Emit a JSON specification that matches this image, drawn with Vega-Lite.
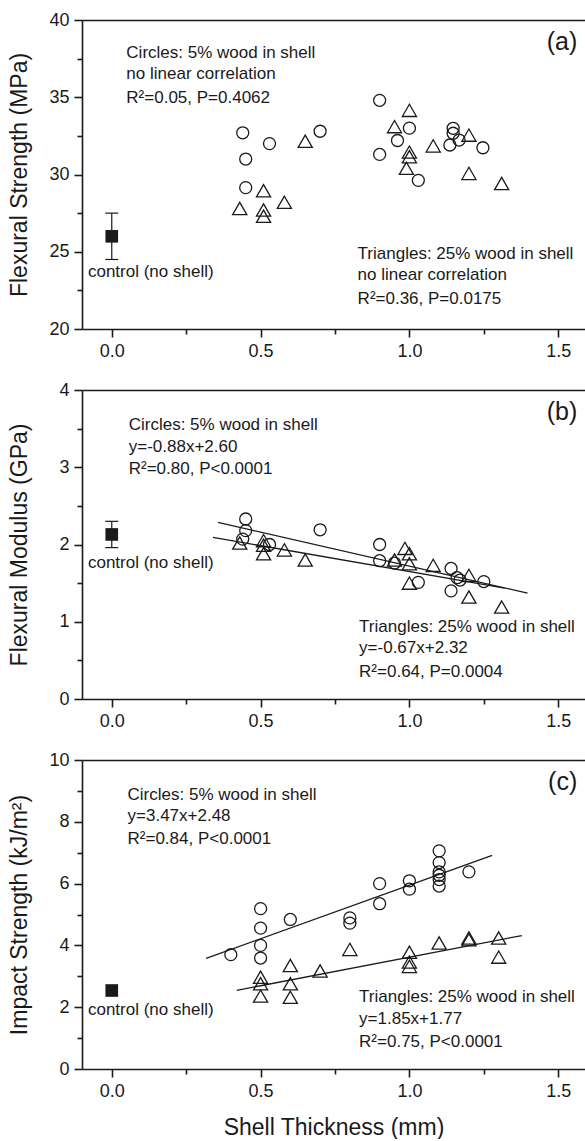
{
  "$schema": "https://vega.github.io/schema/vega-lite/v6.json",
  "padding": {"left": 8, "top": 11, "right": 0, "bottom": 0},
  "bounds": "flush",
  "spacing": 61,
  "datasets": {
    "a_c": [
      {"thickness": 0.44, "value": 32.7}, {"thickness": 0.45, "value": 31.0}, {"thickness": 0.45, "value": 29.15},
      {"thickness": 0.53, "value": 32.0}, {"thickness": 0.70, "value": 32.8}, {"thickness": 0.90, "value": 34.8},
      {"thickness": 0.90, "value": 31.3}, {"thickness": 0.96, "value": 32.2}, {"thickness": 1.00, "value": 33.0},
      {"thickness": 1.03, "value": 29.62}, {"thickness": 1.147, "value": 32.99}, {"thickness": 1.147, "value": 32.67},
      {"thickness": 1.136, "value": 31.91}, {"thickness": 1.167, "value": 32.23}, {"thickness": 1.247, "value": 31.73}
    ],
    "a_t": [
      {"thickness": 0.43, "value": 27.8}, {"thickness": 0.51, "value": 28.95}, {"thickness": 0.51, "value": 27.7},
      {"thickness": 0.51, "value": 27.3}, {"thickness": 0.58, "value": 28.2}, {"thickness": 0.65, "value": 32.15},
      {"thickness": 0.95, "value": 33.1}, {"thickness": 1.00, "value": 34.15}, {"thickness": 1.00, "value": 31.45},
      {"thickness": 1.00, "value": 31.15}, {"thickness": 0.99, "value": 30.4}, {"thickness": 1.08, "value": 31.85},
      {"thickness": 1.20, "value": 32.55}, {"thickness": 1.20, "value": 30.07}, {"thickness": 1.31, "value": 29.42}
    ],
    "a_ctrl": [{"thickness": 0, "value": 26.0, "lo": 24.5, "hi": 27.5}],
    "a_txt": [
      {"x": 0.049, "y": 37.84, "text": "Circles: 5% wood in shell"},
      {"x": 0.049, "y": 36.49, "text": "no linear correlation"},
      {"x": 0.049, "y": 34.93, "text": "R²=0.05, P=0.4062"},
      {"x": 0.826, "y": 24.83, "text": "Triangles: 25% wood in shell"},
      {"x": 0.826, "y": 23.5, "text": "no linear correlation"},
      {"x": 0.826, "y": 21.94, "text": "R²=0.36, P=0.0175"},
      {"x": -0.08, "y": 23.69, "text": "control (no shell)"}
    ],
    "a_lab": [{"x": 1.564, "y": 38.58, "text": "(a)"}],
    "b_c": [
      {"thickness": 0.45, "value": 2.33}, {"thickness": 0.45, "value": 2.18}, {"thickness": 0.44, "value": 2.07},
      {"thickness": 0.53, "value": 2.0}, {"thickness": 0.70, "value": 2.19}, {"thickness": 0.90, "value": 2.0},
      {"thickness": 0.90, "value": 1.79}, {"thickness": 0.95, "value": 1.76}, {"thickness": 1.03, "value": 1.51},
      {"thickness": 1.14, "value": 1.69}, {"thickness": 1.16, "value": 1.57}, {"thickness": 1.17, "value": 1.54},
      {"thickness": 1.14, "value": 1.4}, {"thickness": 1.25, "value": 1.52}
    ],
    "b_t": [
      {"thickness": 0.43, "value": 2.02}, {"thickness": 0.51, "value": 2.05}, {"thickness": 0.51, "value": 1.99},
      {"thickness": 0.51, "value": 1.88}, {"thickness": 0.58, "value": 1.93}, {"thickness": 0.65, "value": 1.8},
      {"thickness": 0.95, "value": 1.8}, {"thickness": 0.985, "value": 1.95}, {"thickness": 1.0, "value": 1.88},
      {"thickness": 1.0, "value": 1.75}, {"thickness": 1.0, "value": 1.5}, {"thickness": 1.08, "value": 1.73},
      {"thickness": 1.2, "value": 1.6}, {"thickness": 1.2, "value": 1.32}, {"thickness": 1.31, "value": 1.19}
    ],
    "b_fit": [
      {"group": "5%", "x": 0.357, "y": 2.286}, {"group": "5%", "x": 1.397, "y": 1.371},
      {"group": "25%", "x": 0.34, "y": 2.092}, {"group": "25%", "x": 1.32, "y": 1.436}
    ],
    "b_ctrl": [{"thickness": 0, "value": 2.13, "lo": 1.96, "hi": 2.3}],
    "b_txt": [
      {"x": 0.057, "y": 3.546, "text": "Circles: 5% wood in shell"},
      {"x": 0.057, "y": 3.265, "text": "y=-0.88x+2.60"},
      {"x": 0.057, "y": 2.975, "text": "R²=0.80, P<0.0001"},
      {"x": 0.831, "y": 0.93, "text": "Triangles: 25% wood in shell"},
      {"x": 0.831, "y": 0.658, "text": "y=-0.67x+2.32"},
      {"x": 0.831, "y": 0.346, "text": "R²=0.64, P=0.0004"},
      {"x": -0.08, "y": 1.765, "text": "control (no shell)"}
    ],
    "b_lab": [{"x": 1.564, "y": 3.71, "text": "(b)"}],
    "c_c": [
      {"thickness": 0.40, "value": 3.7}, {"thickness": 0.50, "value": 5.19}, {"thickness": 0.50, "value": 4.56},
      {"thickness": 0.50, "value": 4.0}, {"thickness": 0.50, "value": 3.59}, {"thickness": 0.60, "value": 4.84},
      {"thickness": 0.80, "value": 4.89}, {"thickness": 0.80, "value": 4.72}, {"thickness": 0.90, "value": 6.0},
      {"thickness": 0.90, "value": 5.35}, {"thickness": 1.0, "value": 6.09}, {"thickness": 1.0, "value": 5.82},
      {"thickness": 1.1, "value": 7.06}, {"thickness": 1.1, "value": 6.68}, {"thickness": 1.1, "value": 6.38},
      {"thickness": 1.1, "value": 6.27}, {"thickness": 1.1, "value": 6.13}, {"thickness": 1.1, "value": 5.92},
      {"thickness": 1.2, "value": 6.38}
    ],
    "c_t": [
      {"thickness": 0.5, "value": 2.97}, {"thickness": 0.5, "value": 2.76}, {"thickness": 0.5, "value": 2.36},
      {"thickness": 0.6, "value": 3.35}, {"thickness": 0.6, "value": 2.76}, {"thickness": 0.6, "value": 2.32},
      {"thickness": 0.7, "value": 3.17}, {"thickness": 0.8, "value": 3.87}, {"thickness": 1.0, "value": 3.78},
      {"thickness": 1.0, "value": 3.46}, {"thickness": 1.0, "value": 3.32}, {"thickness": 1.1, "value": 4.08},
      {"thickness": 1.2, "value": 4.24}, {"thickness": 1.2, "value": 4.18}, {"thickness": 1.3, "value": 4.24},
      {"thickness": 1.3, "value": 3.62}
    ],
    "c_fit": [
      {"group": "5%", "x": 0.317, "y": 3.58}, {"group": "5%", "x": 1.278, "y": 6.915},
      {"group": "25%", "x": 0.42, "y": 2.547}, {"group": "25%", "x": 1.378, "y": 4.319}
    ],
    "c_ctrl": [{"thickness": 0, "value": 2.54}],
    "c_txt": [
      {"x": 0.053, "y": 8.865, "text": "Circles: 5% wood in shell"},
      {"x": 0.053, "y": 8.18, "text": "y=3.47x+2.48"},
      {"x": 0.053, "y": 7.44, "text": "R²=0.84, P<0.0001"},
      {"x": 0.831, "y": 2.33, "text": "Triangles: 25% wood in shell"},
      {"x": 0.831, "y": 1.63, "text": "y=1.85x+1.77"},
      {"x": 0.831, "y": 0.87, "text": "R²=0.75, P<0.0001"},
      {"x": -0.08, "y": 1.92, "text": "control (no shell)"}
    ],
    "c_lab": [{"x": 1.564, "y": 9.28, "text": "(c)"}]
  },
  "vconcat": [
    {
      "width": 503, "height": 309,
      "resolve": {"axis": {"x": "independent", "y": "independent"}},
      "layer": [
        {
          "data": {"name": "a_c"},
          "mark": {"type": "point", "shape": "circle", "size": 144, "filled": false, "stroke": "#1a1a1a", "strokeWidth": 1.3, "opacity": 1},
          "encoding": {
            "x": {"field": "thickness", "type": "quantitative", "scale": {"domain": [-0.1, 1.59], "nice": false, "zero": false},
              "axis": {"orient": "bottom", "values": [0, 0.25, 0.5, 0.75, 1, 1.25, 1.5], "labelExpr": "datum.value % 0.5 === 0 ? format(datum.value, '.1f') : ''", "tickSize": {"condition": {"test": "datum.value % 0.5 === 0", "value": 8}, "value": 5}, "labelPadding": 5, "labelFlush": false, "labelOverlap": false, "title": null}},
            "y": {"field": "value", "type": "quantitative", "scale": {"domain": [20, 40], "nice": false, "zero": false},
              "axis": {"orient": "left", "values": [20, 22.5, 25, 27.5, 30, 32.5, 35, 37.5, 40], "labelExpr": "datum.value % 5 === 0 ? format(datum.value, 'd') : ''", "tickSize": {"condition": {"test": "datum.value % 5 === 0", "value": 8}, "value": 5}, "labelPadding": 5, "labelFlush": false, "labelOverlap": false, "title": "Flexural Strength (MPa)", "titleX": -50.5}}
          }
        },
        {
          "data": {"name": "a_t"},
          "mark": {"type": "point", "shape": "triangle-up", "size": 200, "filled": false, "stroke": "#1a1a1a", "strokeWidth": 1.3, "opacity": 1},
          "encoding": {
            "x": {"field": "thickness", "type": "quantitative", "axis": null},
            "y": {"field": "value", "type": "quantitative", "axis": null}
          }
        },
        {
          "data": {"name": "a_ctrl"},
          "mark": {"type": "rule", "stroke": "#1a1a1a", "strokeWidth": 1.2},
          "encoding": {
            "x": {"field": "thickness", "type": "quantitative", "axis": null},
            "y": {"field": "lo", "type": "quantitative", "axis": null},
            "y2": {"field": "hi"}
          }
        },
        {
          "data": {"name": "a_ctrl"},
          "mark": {"type": "tick", "orient": "horizontal", "size": 13, "thickness": 1.2, "color": "#1a1a1a", "opacity": 1},
          "encoding": {
            "x": {"field": "thickness", "type": "quantitative", "axis": null},
            "y": {"field": "lo", "type": "quantitative", "axis": null}
          }
        },
        {
          "data": {"name": "a_ctrl"},
          "mark": {"type": "tick", "orient": "horizontal", "size": 13, "thickness": 1.2, "color": "#1a1a1a", "opacity": 1},
          "encoding": {
            "x": {"field": "thickness", "type": "quantitative", "axis": null},
            "y": {"field": "hi", "type": "quantitative", "axis": null}
          }
        },
        {
          "data": {"name": "a_ctrl"},
          "mark": {"type": "point", "shape": "square", "size": 160, "filled": true, "color": "#1a1a1a", "opacity": 1},
          "encoding": {
            "x": {"field": "thickness", "type": "quantitative", "axis": null},
            "y": {"field": "value", "type": "quantitative", "axis": null}
          }
        },
        {
          "data": {"name": "a_txt"},
          "mark": {"type": "text", "align": "left", "baseline": "middle", "fontSize": 17, "color": "#1a1a1a"},
          "encoding": {
            "x": {"field": "x", "type": "quantitative", "axis": null},
            "y": {"field": "y", "type": "quantitative", "axis": null},
            "text": {"field": "text"}
          }
        },
        {
          "data": {"name": "a_lab"},
          "mark": {"type": "text", "align": "right", "baseline": "middle", "fontSize": 25, "color": "#1a1a1a"},
          "encoding": {
            "x": {"field": "x", "type": "quantitative", "axis": {"orient": "top", "ticks": false, "labels": false, "title": null, "domain": true}},
            "y": {"field": "y", "type": "quantitative", "axis": null},
            "text": {"field": "text"}
          }
        }
      ]
    },
    {
      "width": 503, "height": 309,
      "resolve": {"axis": {"x": "independent", "y": "independent"}},
      "layer": [
        {
          "data": {"name": "b_fit"},
          "mark": {"type": "line", "stroke": "#1a1a1a", "strokeWidth": 1.3},
          "encoding": {
            "x": {"field": "x", "type": "quantitative", "axis": null},
            "y": {"field": "y", "type": "quantitative", "axis": null},
            "detail": {"field": "group"}
          }
        },
        {
          "data": {"name": "b_c"},
          "mark": {"type": "point", "shape": "circle", "size": 144, "filled": false, "stroke": "#1a1a1a", "strokeWidth": 1.3, "opacity": 1},
          "encoding": {
            "x": {"field": "thickness", "type": "quantitative", "scale": {"domain": [-0.1, 1.59], "nice": false, "zero": false},
              "axis": {"orient": "bottom", "values": [0, 0.25, 0.5, 0.75, 1, 1.25, 1.5], "labelExpr": "datum.value % 0.5 === 0 ? format(datum.value, '.1f') : ''", "tickSize": {"condition": {"test": "datum.value % 0.5 === 0", "value": 8}, "value": 5}, "labelPadding": 5, "labelFlush": false, "labelOverlap": false, "title": null}},
            "y": {"field": "value", "type": "quantitative", "scale": {"domain": [0, 4], "nice": false, "zero": false},
              "axis": {"orient": "left", "values": [0, 0.5, 1, 1.5, 2, 2.5, 3, 3.5, 4], "labelExpr": "datum.value % 1 === 0 ? format(datum.value, 'd') : ''", "tickSize": {"condition": {"test": "datum.value % 1 === 0", "value": 8}, "value": 5}, "labelPadding": 5, "labelFlush": false, "labelOverlap": false, "title": "Flexural Modulus (GPa)", "titleX": -50.5}}
          }
        },
        {
          "data": {"name": "b_t"},
          "mark": {"type": "point", "shape": "triangle-up", "size": 200, "filled": false, "stroke": "#1a1a1a", "strokeWidth": 1.3, "opacity": 1},
          "encoding": {
            "x": {"field": "thickness", "type": "quantitative", "axis": null},
            "y": {"field": "value", "type": "quantitative", "axis": null}
          }
        },
        {
          "data": {"name": "b_ctrl"},
          "mark": {"type": "rule", "stroke": "#1a1a1a", "strokeWidth": 1.2},
          "encoding": {
            "x": {"field": "thickness", "type": "quantitative", "axis": null},
            "y": {"field": "lo", "type": "quantitative", "axis": null},
            "y2": {"field": "hi"}
          }
        },
        {
          "data": {"name": "b_ctrl"},
          "mark": {"type": "tick", "orient": "horizontal", "size": 13, "thickness": 1.2, "color": "#1a1a1a", "opacity": 1},
          "encoding": {
            "x": {"field": "thickness", "type": "quantitative", "axis": null},
            "y": {"field": "lo", "type": "quantitative", "axis": null}
          }
        },
        {
          "data": {"name": "b_ctrl"},
          "mark": {"type": "tick", "orient": "horizontal", "size": 13, "thickness": 1.2, "color": "#1a1a1a", "opacity": 1},
          "encoding": {
            "x": {"field": "thickness", "type": "quantitative", "axis": null},
            "y": {"field": "hi", "type": "quantitative", "axis": null}
          }
        },
        {
          "data": {"name": "b_ctrl"},
          "mark": {"type": "point", "shape": "square", "size": 160, "filled": true, "color": "#1a1a1a", "opacity": 1},
          "encoding": {
            "x": {"field": "thickness", "type": "quantitative", "axis": null},
            "y": {"field": "value", "type": "quantitative", "axis": null}
          }
        },
        {
          "data": {"name": "b_txt"},
          "mark": {"type": "text", "align": "left", "baseline": "middle", "fontSize": 17, "color": "#1a1a1a"},
          "encoding": {
            "x": {"field": "x", "type": "quantitative", "axis": null},
            "y": {"field": "y", "type": "quantitative", "axis": null},
            "text": {"field": "text"}
          }
        },
        {
          "data": {"name": "b_lab"},
          "mark": {"type": "text", "align": "right", "baseline": "middle", "fontSize": 25, "color": "#1a1a1a"},
          "encoding": {
            "x": {"field": "x", "type": "quantitative", "axis": {"orient": "top", "ticks": false, "labels": false, "title": null, "domain": true}},
            "y": {"field": "y", "type": "quantitative", "axis": null},
            "text": {"field": "text"}
          }
        }
      ]
    },
    {
      "width": 503, "height": 309,
      "resolve": {"axis": {"x": "independent", "y": "independent"}},
      "layer": [
        {
          "data": {"name": "c_fit"},
          "mark": {"type": "line", "stroke": "#1a1a1a", "strokeWidth": 1.3},
          "encoding": {
            "x": {"field": "x", "type": "quantitative", "axis": null},
            "y": {"field": "y", "type": "quantitative", "axis": null},
            "detail": {"field": "group"}
          }
        },
        {
          "data": {"name": "c_c"},
          "mark": {"type": "point", "shape": "circle", "size": 144, "filled": false, "stroke": "#1a1a1a", "strokeWidth": 1.3, "opacity": 1},
          "encoding": {
            "x": {"field": "thickness", "type": "quantitative", "scale": {"domain": [-0.1, 1.59], "nice": false, "zero": false},
              "axis": {"orient": "bottom", "values": [0, 0.25, 0.5, 0.75, 1, 1.25, 1.5], "labelExpr": "datum.value % 0.5 === 0 ? format(datum.value, '.1f') : ''", "tickSize": {"condition": {"test": "datum.value % 0.5 === 0", "value": 8}, "value": 5}, "labelPadding": 5, "labelFlush": false, "labelOverlap": false, "title": "Shell Thickness (mm)", "titlePadding": 16}},
            "y": {"field": "value", "type": "quantitative", "scale": {"domain": [0, 10], "nice": false, "zero": false},
              "axis": {"orient": "left", "values": [0, 1, 2, 3, 4, 5, 6, 7, 8, 9, 10], "labelExpr": "datum.value % 2 === 0 ? format(datum.value, 'd') : ''", "tickSize": {"condition": {"test": "datum.value % 2 === 0", "value": 8}, "value": 5}, "labelPadding": 5, "labelFlush": false, "labelOverlap": false, "title": "Impact Strength (kJ/m²)", "titleX": -50.5}}
          }
        },
        {
          "data": {"name": "c_t"},
          "mark": {"type": "point", "shape": "triangle-up", "size": 200, "filled": false, "stroke": "#1a1a1a", "strokeWidth": 1.3, "opacity": 1},
          "encoding": {
            "x": {"field": "thickness", "type": "quantitative", "axis": null},
            "y": {"field": "value", "type": "quantitative", "axis": null}
          }
        },
        {
          "data": {"name": "c_ctrl"},
          "mark": {"type": "point", "shape": "square", "size": 160, "filled": true, "color": "#1a1a1a", "opacity": 1},
          "encoding": {
            "x": {"field": "thickness", "type": "quantitative", "axis": null},
            "y": {"field": "value", "type": "quantitative", "axis": null}
          }
        },
        {
          "data": {"name": "c_txt"},
          "mark": {"type": "text", "align": "left", "baseline": "middle", "fontSize": 17, "color": "#1a1a1a"},
          "encoding": {
            "x": {"field": "x", "type": "quantitative", "axis": null},
            "y": {"field": "y", "type": "quantitative", "axis": null},
            "text": {"field": "text"}
          }
        },
        {
          "data": {"name": "c_lab"},
          "mark": {"type": "text", "align": "right", "baseline": "middle", "fontSize": 25, "color": "#1a1a1a"},
          "encoding": {
            "x": {"field": "x", "type": "quantitative", "axis": {"orient": "top", "ticks": false, "labels": false, "title": null, "domain": true}},
            "y": {"field": "y", "type": "quantitative", "axis": null},
            "text": {"field": "text"}
          }
        }
      ]
    }
  ],
  "config": {
    "font": "Liberation Sans",
    "view": {"stroke": null},
    "axis": {
      "grid": false,
      "domainColor": "#1a1a1a", "domainWidth": 1.6,
      "tickColor": "#1a1a1a", "tickWidth": 1.6,
      "labelFont": "Liberation Sans", "labelFontSize": 18, "labelColor": "#1a1a1a",
      "titleFont": "Liberation Sans", "titleFontSize": 23, "titleFontWeight": "normal", "titleColor": "#1a1a1a"
    }
  }
}
